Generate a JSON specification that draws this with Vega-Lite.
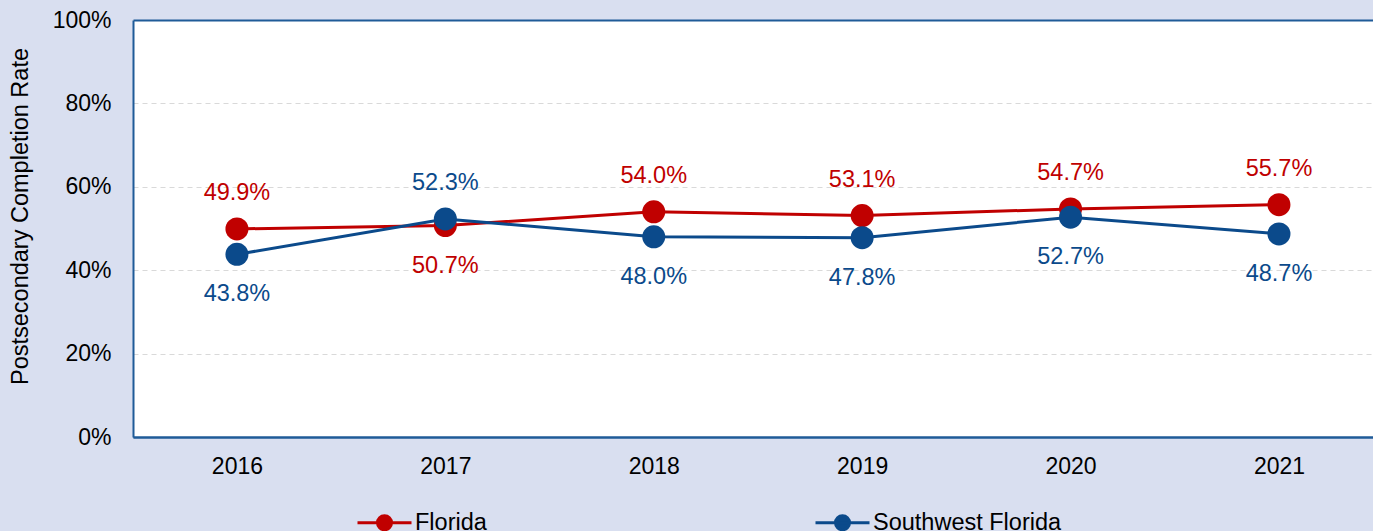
{
  "$schema": "https://vega.github.io/schema/vega-lite/v6.json",
  "width": 1240,
  "height": 417,
  "autosize": {"type": "none"},
  "padding": {"left": 133, "top": 20, "right": 0, "bottom": 94},
  "background": "#d9dff0",
  "config": {
    "view": {"stroke": null, "fill": "white"},
    "font": "Liberation Sans"
  },
  "data": {
    "values": [
      {"year": "2016", "region": "Florida", "rate": 0.499},
      {"year": "2017", "region": "Florida", "rate": 0.507},
      {"year": "2018", "region": "Florida", "rate": 0.540},
      {"year": "2019", "region": "Florida", "rate": 0.531},
      {"year": "2020", "region": "Florida", "rate": 0.547},
      {"year": "2021", "region": "Florida", "rate": 0.557},
      {"year": "2016", "region": "Southwest Florida", "rate": 0.438},
      {"year": "2017", "region": "Southwest Florida", "rate": 0.523},
      {"year": "2018", "region": "Southwest Florida", "rate": 0.480},
      {"year": "2019", "region": "Southwest Florida", "rate": 0.478},
      {"year": "2020", "region": "Southwest Florida", "rate": 0.527},
      {"year": "2021", "region": "Southwest Florida", "rate": 0.487}
    ]
  },
  "encoding": {
    "x": {
      "field": "year",
      "type": "ordinal",
      "scale": {"type": "point", "padding": 0.475, "align": 0.525},
      "axis": {
        "title": null,
        "labelAngle": 0,
        "ticks": false,
        "labelPadding": 18,
        "labelFontSize": 23,
        "labelColor": "#000000",
        "domain": true,
        "domainColor": "#1f5b98",
        "domainWidth": 2,
        "grid": false
      }
    },
    "y": {
      "field": "rate",
      "type": "quantitative",
      "scale": {"domain": [0, 1], "nice": false},
      "axis": {
        "title": "Postsecondary Completion Rate",
        "values": [0, 0.2, 0.4, 0.6, 0.8, 1],
        "format": ".0%",
        "ticks": false,
        "labelPadding": 22,
        "labelFontSize": 23,
        "labelColor": "#000000",
        "domain": true,
        "domainColor": "#1f5b98",
        "domainWidth": 2,
        "grid": true,
        "gridColor": {"condition": {"test": "datum.value === 1 || datum.value === 0", "value": "#1f5b98"}, "value": "#d9d9d9"},
        "gridDash": {"condition": {"test": "datum.value === 1 || datum.value === 0", "value": []}, "value": [5, 4]},
        "gridWidth": {"condition": {"test": "datum.value === 1 || datum.value === 0", "value": 2}, "value": 1},
        "titleFontSize": 23.5,
        "titleFontWeight": "normal",
        "titleColor": "#000000",
        "titleX": -113,
        "titleY": 196,
        "titleAngle": -90,
        "titleAlign": "center",
        "titleBaseline": "middle"
      }
    },
    "color": {
      "field": "region",
      "type": "nominal",
      "scale": {"domain": ["Florida", "Southwest Florida"], "range": ["#c00000", "#0b4a8b"]},
      "legend": {
        "orient": "none",
        "legendX": 223,
        "legendY": 474,
        "direction": "horizontal",
        "columns": 2,
        "columnPadding": 322,
        "title": null,
        "padding": 0,
        "labelFontSize": 23.5,
        "labelColor": "#000000",
        "labelOffset": 2,
        "labelLimit": 400,
        "symbolType": "M-1,0L1,0M-0.26,0A0.26,0.26,0,1,1,0.26,0A0.26,0.26,0,1,1,-0.26,0Z",
        "symbolSize": 2916,
        "symbolStrokeWidth": 3,
        "symbolOpacity": 1,
        "encode": {
          "symbols": {
            "update": {
              "fill": {"scale": "color", "field": "value"},
              "stroke": {"scale": "color", "field": "value"}
            }
          }
        }
      }
    }
  },
  "layer": [
    {"mark": {"type": "line", "strokeWidth": 3}},
    {"mark": {"type": "point", "filled": true, "size": 529, "opacity": 1}},
    {
      "transform": [
        {"joinaggregate": [{"op": "max", "field": "rate", "as": "top"}], "groupby": ["year"]},
        {"filter": "datum.rate === datum.top"}
      ],
      "mark": {"type": "text", "dy": -36, "fontSize": 23.5},
      "encoding": {"text": {"field": "rate", "type": "quantitative", "format": ".1%"}}
    },
    {
      "transform": [
        {"joinaggregate": [{"op": "max", "field": "rate", "as": "top"}], "groupby": ["year"]},
        {"filter": "datum.rate < datum.top"}
      ],
      "mark": {"type": "text", "dy": 40, "fontSize": 23.5},
      "encoding": {"text": {"field": "rate", "type": "quantitative", "format": ".1%"}}
    }
  ]
}
